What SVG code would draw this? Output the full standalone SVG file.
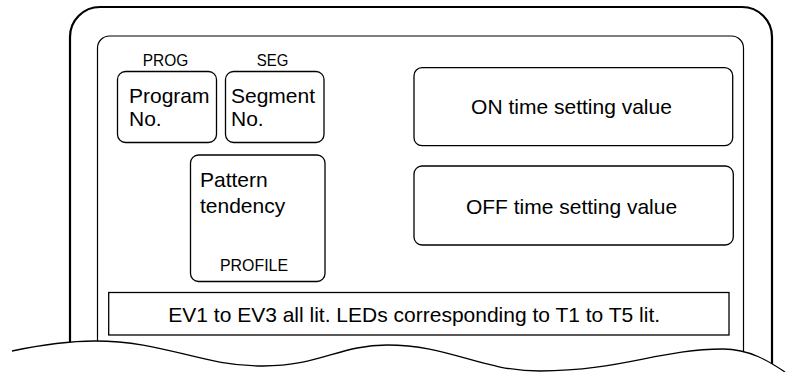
<svg xmlns="http://www.w3.org/2000/svg" width="791" height="372" viewBox="0 0 791 372">
<style>
.box{fill:#fff;stroke:#000;stroke-width:1.3}
.t{font-family:"Liberation Sans",Arial,sans-serif;font-size:21px;fill:#000}
.lbl{font-family:"Liberation Sans",Arial,sans-serif;font-size:17px;fill:#000}
.mid{text-anchor:middle}
</style>
<rect width="791" height="372" fill="#fff"/>
<g id="frame">
<path d="M70,372 V37 A30,30 0 0 1 100,7 H742 A30,30 0 0 1 772,37 V372" fill="none" stroke="#000" stroke-width="2.2"/>
<path d="M97.5,372 V48 A12,12 0 0 1 109.5,36 H731.5 A12,12 0 0 1 743.5,48 V372" fill="none" stroke="#000" stroke-width="1.2"/>
</g>
<g id="prog">
<text class="lbl mid" x="165.5" y="65.7" textLength="45.6" lengthAdjust="spacingAndGlyphs">PROG</text>
<rect class="box" x="117.5" y="71.5" width="99" height="71" rx="8"/>
<text class="t" x="129" y="103.3">Program</text>
<text class="t" x="129" y="126">No.</text>
</g>
<g id="seg">
<text class="lbl mid" x="272.5" y="65.7" textLength="31.6" lengthAdjust="spacingAndGlyphs">SEG</text>
<rect class="box" x="225.5" y="71.5" width="98.5" height="71" rx="8"/>
<text class="t" x="231" y="103.3">Segment</text>
<text class="t" x="231" y="126">No.</text>
</g>
<g id="profile">
<rect class="box" x="190.5" y="155" width="134.5" height="126.5" rx="8"/>
<text class="t" x="200" y="186.7">Pattern</text>
<text class="t" x="200" y="212.7">tendency</text>
<text class="lbl mid" x="254" y="271" textLength="68" lengthAdjust="spacingAndGlyphs">PROFILE</text>
</g>
<g id="on">
<rect class="box" x="414" y="67.7" width="318.7" height="78" rx="8"/>
<text class="t mid" x="571.5" y="114.3">ON time setting value</text>
</g>
<g id="off">
<rect class="box" x="414" y="166" width="319.3" height="79" rx="8"/>
<text class="t mid" x="571.5" y="214">OFF time setting value</text>
</g>
<g id="ev">
<rect class="box" x="108.7" y="292.5" width="620.3" height="42.5"/>
<text class="t mid" x="414.2" y="321.7">EV1 to EV3 all lit. LEDs corresponding to T1 to T5 lit.</text>
</g>
<g id="break">
<path d="M12,351 C45,344 70,341 95,341 C165,341 200,366 263,366 C320,366 340,345 387,345 C450,345 480,371 540,371 C620,371 660,349 723,349 C750,349 770,362 785,372 L791,372 L0,372 L0,351 Z" fill="#fff" stroke="none"/>
<path d="M12,351 C45,344 70,341 95,341 C165,341 200,366 263,366 C320,366 340,345 387,345 C450,345 480,371 540,371 C620,371 660,349 723,349 C750,349 770,362 785,372" fill="none" stroke="#000" stroke-width="1.3"/>
</g>
</svg>
